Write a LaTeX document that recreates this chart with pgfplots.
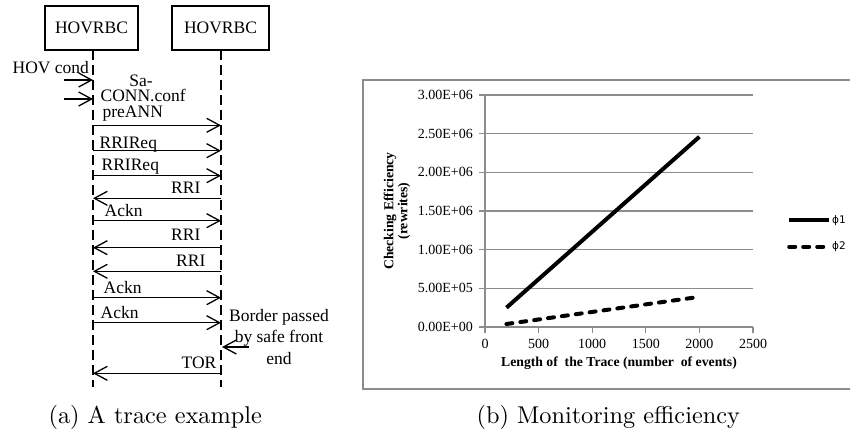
\documentclass[border=0pt]{standalone}
\usepackage{fontspec}
\usepackage{pgfplots}
\pgfplotsset{compat=1.18}
\usetikzlibrary{arrows.meta}
\newfontfamily\tnr{Liberation Serif}
\newfontfamily\dvs{DejaVu Sans}
\definecolor{gridgray}{RGB}{140,140,140}
\begin{document}
\begin{tikzpicture}
\path[use as bounding box] (0,0) rectangle (850pt,-429pt);
\begin{scope}[x=1pt,y=-1pt, line width=1.3pt, font=\tnr\fontsize{17.5}{20}\selectfont,
  arr/.style={-{Straight Barb[length=13pt,width=14pt,line join=miter]}},
  txt/.style={inner sep=0pt}]
\draw (45,6) rectangle (138,50);
\draw (172,6) rectangle (269,50);
\node at (91.5,28) {HOVRBC};
\node at (220.5,28) {HOVRBC};
\draw[dash pattern=on 10pt off 5pt] (93,50) -- (93,387);
\draw[dash pattern=on 10pt off 5pt] (221,50) -- (221,387);
% left short arrows
\draw[arr] (64,80) -- (93,80);
\draw[arr] (64,99) -- (93,99);
\node[txt,anchor=base west] at (12,73.5) {HOV cond};
\node[txt,anchor=base] at (141,86) {Sa-};
\node[txt,anchor=base west] at (100,101.2) {CONN.conf};
\node[txt,anchor=base west] at (102,117.5) {preANN};
\draw[arr] (93,125.3) -- (221,125.3);
\node[txt,anchor=base west] at (99,148.3) {RRIReq};
\draw[arr] (93,150.7) -- (221,150.7);
\node[txt,anchor=base west] at (101,170) {RRIReq};
\draw[arr] (93,175.7) -- (221,175.7);
\node[txt,anchor=base east] at (201,193.3) {RRI};
\draw[arr] (221,198.3) -- (93,198.3);
\node[txt,anchor=base west] at (104,216.5) {Ackn};
\draw[arr] (93,220.7) -- (221,220.7);
\node[txt,anchor=base east] at (201,240.7) {RRI};
\draw[arr] (221,247.7) -- (93,247.7);
\node[txt,anchor=base east] at (206,266.7) {RRI};
\draw[arr] (221,271.3) -- (93,271.3);
\node[txt,anchor=base west] at (103,293.3) {Ackn};
\draw[arr] (93,297.7) -- (221,297.7);
\node[txt,anchor=base west] at (100,318.3) {Ackn};
\draw[arr] (93,322.7) -- (221,322.7);
\node[txt,anchor=base] at (279,321.7) {Border passed};
\node[txt,anchor=base] at (279,342.7) {by safe front};
\node[txt,anchor=base] at (279,364) {end};
\draw[arr] (249,347) -- (222,347);
\node[txt,anchor=base east] at (217,368.3) {TOR};
\draw[arr] (221,373.3) -- (93,373.3);
% captions (10pt design, scaled)
\node[txt,anchor=base west,font=\fontsize{10}{12}\selectfont,scale=2.43] at (47,423) {(a) A trace example};
\node[txt,anchor=base west,font=\fontsize{10}{12}\selectfont,scale=2.43] at (475,423) {(b) Monitoring efficiency};
% frame
\draw[gridgray, line width=1.5pt] (363,80) rectangle (853,389);
\end{scope}
\begin{axis}[at={(485pt,-327pt)}, anchor=south west, scale only axis,
  width=268pt, height=232pt,
  xmin=0, xmax=2500, ymin=0, ymax=3000000,
  enlargelimits=false,
  axis x line*=bottom, axis y line*=left,
  axis line style={gridgray, line width=1.5pt, -},
  tick style={gridgray, line width=1.2pt},
  tick align=outside, major tick length=6pt,
  xtick={0,500,1000,1500,2000,2500},
  xticklabels={0,500,1000,1500,2000,2500},
  ytick={0,500000,1000000,1500000,2000000,2500000,3000000},
  yticklabels={0.00E+00,5.00E+05,1.00E+06,1.50E+06,2.00E+06,2.50E+06,3.00E+06},
  scaled y ticks=false,
  ymajorgrids, major grid style={gridgray, line width=1.5pt},
  ticklabel style={font=\tnr\fontsize{14}{16}\selectfont},
  xticklabel style={anchor=center, yshift=-11pt},
  yticklabel style={anchor=east, inner sep=0pt, xshift=-6pt},
  xlabel={Length of\ \ the Trace (number\ \ of events)},
  xlabel style={font=\tnr\bfseries\fontsize{13.7}{15}\selectfont, at={(axis description cs:0.5,-0.155)}, anchor=center},
  ylabel={Checking Efficiency\\(rewrites)},
  ylabel style={font=\tnr\bfseries\fontsize{13.7}{14}\selectfont, align=center, at={(axis description cs:-0.328,0.5)}, anchor=center},
  legend style={at={(axis description cs:1.127,0.403)}, anchor=west, draw=none, fill=none, inner sep=0pt, row sep=15pt, font=\dvs\fontsize{10.5}{12}\selectfont, nodes={inner sep=1pt}},
  legend cell align=left,
  legend image code/.code={\draw[#1] (0pt,0pt) -- (40pt,0pt);},
]
\addplot[black, line width=4pt] coordinates {(200,250000) (2000,2460000)};
\addlegendentry{ϕ1}
\addplot[black, line width=4pt, dash pattern=on 6pt off 8pt, line cap=round] coordinates {(200,39000) (2000,390000)};
\addlegendentry{ϕ2}
\end{axis}
\end{tikzpicture}
\end{document}
